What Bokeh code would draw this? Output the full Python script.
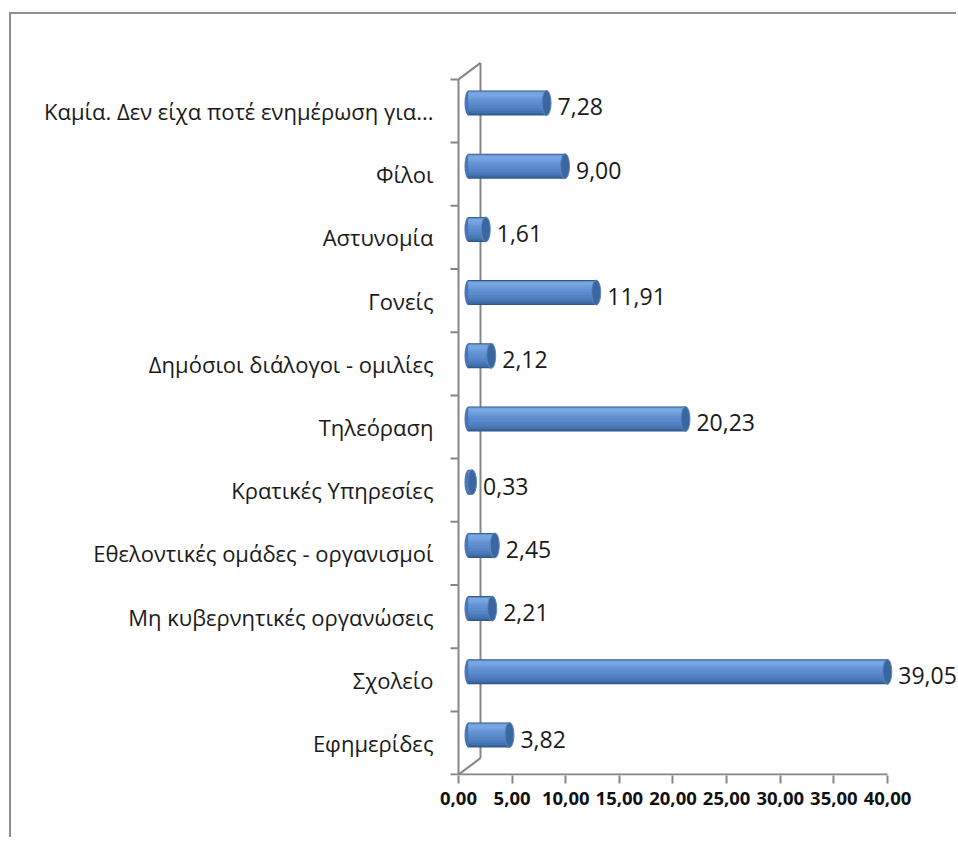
import numpy as np
from bokeh.plotting import figure
from bokeh.models import Range1d, FixedTicker
from bokeh.core.properties import value
from bokeh.embed import file_html
from bokeh.resources import INLINE

# ---------------- data (top to bottom as in the chart) ----------------
categories = [
    "Καμία. Δεν είχα ποτέ ενημέρωση για...",
    "Φίλοι",
    "Αστυνομία",
    "Γονείς",
    "Δημόσιοι διάλογοι - ομιλίες",
    "Τηλεόραση",
    "Κρατικές Υπηρεσίες",
    "Εθελοντικές ομάδες - οργανισμοί",
    "Μη κυβερνητικές οργανώσεις",
    "Σχολείο",
    "Εφημερίδες",
]
values = [7.28, 9.00, 1.61, 11.91, 2.12, 20.23, 0.33, 2.45, 2.21, 39.05, 3.82]
x_ticks = [0, 5, 10, 15, 20, 25, 30, 35, 40]
x_tick_labels = ["0,00", "5,00", "10,00", "15,00", "20,00", "25,00", "30,00", "35,00", "40,00"]

# ---------------- styling constants ----------------
FONT = "Open Sans"
AXIS_GREY = "#868686"
PX_X = 1 / 10.725      # data units per pixel (x)
PX_Y = 1 / 63.2        # data units per pixel (y)
BAR_X0 = 10 * PX_X     # 3-D depth shift of the bars
BAR_DY = 8 * PX_Y
BAR_H_PX = 25
DEPTH_X = 22 * PX_X
DEPTH_Y = 16.5 * PX_Y
TICK_LEN = 8 * PX_X
# nested shading bands of the cylinder body: (top px, bottom px, colour)
SHADE = [(0, 25, "#2f5689"), (0.6, 24, "#3a669e"), (0.8, 22.5, "#4372ae"),
         (1.0, 20.5, "#4b7bbb"), (1.0, 18, "#5383c5"), (1.2, 15, "#5a8bcd"),
         (1.4, 12, "#6190d2"), (1.6, 9.5, "#6896d6"), (1.8, 7.5, "#70a0dc"),
         (2.0, 5.5, "#79a6e0")]

n = len(categories)
ypos = np.arange(n)[::-1].astype(float)        # label positions (0 = bottom)
vals = np.array(values)
bar_y = ypos + BAR_DY
bar_end = BAR_X0 + vals

p = figure(width=947, height=825, output_backend="svg", toolbar_location=None,
           x_range=Range1d(-0.932, 46.62), y_range=Range1d(-0.514, 10.957),
           min_border_left=437, min_border_right=0, min_border_top=36,
           min_border_bottom=64)
p.styles = {"border-left": "2px solid #8f8f8f", "border-top": "2px solid #8f8f8f",
            "margin-left": "9px", "margin-top": "12px"}
p.outline_line_color = None
p.xgrid.visible = False
p.ygrid.visible = False
p.background_fill_color = "white"
p.border_fill_color = "white"

# x axis
p.xaxis.ticker = FixedTicker(ticks=x_ticks)
p.xaxis.major_label_overrides = {t: l for t, l in zip(x_ticks, x_tick_labels)}
p.xaxis.axis_line_color = None
p.xaxis.major_tick_line_color = AXIS_GREY
p.xaxis.major_tick_line_width = 2
p.xaxis.major_tick_out = 8
p.xaxis.major_tick_in = 0
p.xaxis.minor_tick_line_color = None
p.xaxis.major_label_text_font = FONT
p.xaxis.major_label_text_font_size = "18.5px"
p.xaxis.major_label_text_font_style = "bold"
p.xaxis.major_label_text_color = "#111111"
p.xaxis.major_label_standoff = 8

# y axis (labels only)
p.yaxis.ticker = FixedTicker(ticks=list(range(n)))
p.yaxis.major_label_overrides = {int(y): c for y, c in zip(ypos, categories)}
p.yaxis.axis_line_color = None
p.yaxis.major_tick_line_color = None
p.yaxis.major_tick_out = 0
p.yaxis.major_tick_in = 0
p.yaxis.minor_tick_line_color = None
p.yaxis.major_label_text_font = FONT
p.yaxis.major_label_text_font_size = "22px"
p.yaxis.major_label_text_color = "#1a1a1a"
p.yaxis.major_label_standoff = 15

# 3-D walls / axis lines
front_bottom, front_top = -0.5, n - 0.5
seg_x0 = [0, 0, DEPTH_X, 0, 0]
seg_y0 = [front_bottom, front_top, front_bottom + DEPTH_Y, front_bottom, front_bottom]
seg_x1 = [0, DEPTH_X, DEPTH_X, DEPTH_X, x_ticks[-1]]
seg_y1 = [front_top, front_top + DEPTH_Y, front_top + DEPTH_Y, front_bottom + DEPTH_Y, front_bottom]
p.segment(seg_x0, seg_y0, seg_x1, seg_y1, line_color=AXIS_GREY, line_width=2)
tick_y = np.arange(n + 1) - 0.5
p.segment(np.zeros(n + 1), tick_y, np.full(n + 1, -TICK_LEN), tick_y,
          line_color=AXIS_GREY, line_width=2)

# cylinders: left cap, shaded body, right cap
p.ellipse(x=np.full(n, BAR_X0), y=bar_y, width=8, height=BAR_H_PX,
          width_units="screen", height_units="screen",
          fill_color="#4777b6", line_color=None)
for top, bot, col in SHADE:
    off = (BAR_H_PX / 2 - (top + bot) / 2) * PX_Y
    p.hbar(y=bar_y + off, left=np.full(n, BAR_X0), right=bar_end,
           height=(bot - top) * PX_Y, fill_color=col, line_color=None)
p.ellipse(x=bar_end, y=bar_y, width=9, height=BAR_H_PX,
          width_units="screen", height_units="screen",
          fill_color="#3B669F", line_color="#5A86C2", line_width=1)

# value labels
labels = [f"{v:.2f}".replace(".", ",") for v in values]
p.text(x=bar_end, y=bar_y, text=labels, x_offset=11, y_offset=4,
       text_baseline="middle", text_align="left",
       text_font=value(FONT), text_font_size="23px", text_color="#1a1a1a")

open("out.html", "w").write(file_html(p, INLINE))
